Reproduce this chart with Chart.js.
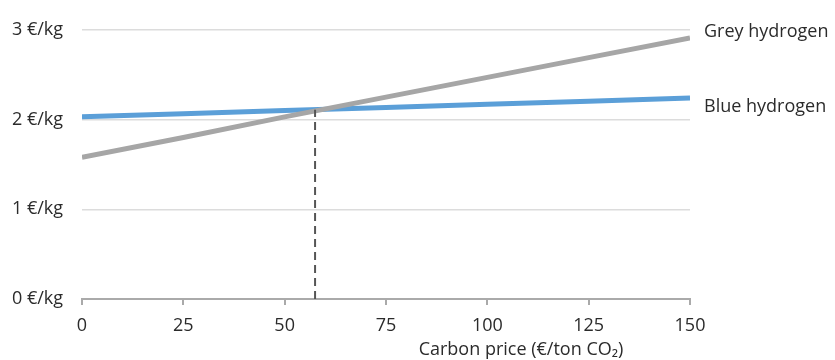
<!DOCTYPE html>
<html>
<head>
<meta charset="utf-8">
<script src="https://cdn.jsdelivr.net/npm/chart.js@4"></script>
<style>
  html, body { margin: 0; padding: 0; background: #fff; }
  #wrap { width: 835px; height: 360px; }
</style>
</head>
<body>
<div id="wrap"><canvas id="chart" width="835" height="360"></canvas></div>
<script>
// Carbon price vs hydrogen cost
const carbonPrice = [0, 25, 50, 75, 100, 125, 150];
const greyHydrogen = [1.58, 1.80, 2.03, 2.25, 2.47, 2.69, 2.91];
const blueHydrogen = [2.03, 2.065, 2.10, 2.135, 2.17, 2.205, 2.24];
const seriesNames = ['Grey hydrogen', 'Blue hydrogen'];
const xTitle = 'Carbon price (€/ton CO₂)';
// break-even marker (dashed line)
const breakEvenX = [57.5, 57.5];
const breakEvenY = [0, 2.11];

const textColor = '#2b2b2b';
const fontFamily = "'Open Sans', 'Noto Sans', sans-serif";
const fontSize = 18;

function toPoints(xs, ys) {
  return xs.map((x, i) => ({ x: x, y: ys[i] }));
}

// series names next to the line ends + x axis title (sits right of centre in the original)
const extraText = {
  id: 'extraText',
  afterDraw(chart) {
    const ctx = chart.ctx;
    const yScale = chart.scales.y;
    const area = chart.chartArea;
    const offsets = [-6, 9];
    ctx.save();
    ctx.font = fontSize + 'px ' + fontFamily;
    ctx.fillStyle = textColor;
    ctx.textBaseline = 'middle';
    ctx.textAlign = 'left';
    [greyHydrogen, blueHydrogen].forEach((arr, i) => {
      const y = yScale.getPixelForValue(arr[arr.length - 1]) + offsets[i];
      ctx.fillText(seriesNames[i], area.right + 14, y);
    });
    ctx.textAlign = 'center';
    ctx.fillText(xTitle, area.left + (area.right - area.left) * 0.722, area.bottom + 51);
    ctx.restore();
  }
};

const ctx = document.getElementById('chart').getContext('2d');
new Chart(ctx, {
  type: 'line',
  data: {
    datasets: [
      {
        label: seriesNames[0],
        data: toPoints(carbonPrice, greyHydrogen),
        borderColor: '#a6a6a6',
        borderWidth: 5,
        pointRadius: 0,
        tension: 0
      },
      {
        label: seriesNames[1],
        data: toPoints(carbonPrice, blueHydrogen),
        borderColor: '#5b9fd8',
        borderWidth: 5,
        pointRadius: 0,
        tension: 0
      },
      {
        label: 'break-even',
        data: toPoints(breakEvenX, breakEvenY),
        borderColor: '#555555',
        borderWidth: 2,
        borderDash: [8, 5],
        pointRadius: 0,
        order: -1
      }
    ]
  },
  options: {
    responsive: false,
    animation: false,
    layout: { padding: { top: 16, right: 145, left: 0, bottom: 0 } },
    plugins: {
      legend: { display: false },
      tooltip: { enabled: false }
    },
    scales: {
      x: {
        type: 'linear',
        min: 0,
        max: 150,
        ticks: {
          stepSize: 25,
          color: textColor,
          font: { size: fontSize, family: fontFamily },
          padding: 10
        },
        grid: {
          drawOnChartArea: false,
          drawTicks: true,
          tickLength: 6,
          color: '#aaaaaa',
          lineWidth: 2
        },
        border: { display: true, color: '#aaaaaa', width: 2 },
        afterFit(scale) { scale.height = 61; }
      },
      y: {
        min: 0,
        max: 3,
        ticks: {
          stepSize: 1,
          color: textColor,
          font: { size: fontSize, family: fontFamily },
          padding: 19,
          callback: v => v + ' €/kg'
        },
        grid: {
          color: '#dcdcdc',
          lineWidth: 1.5,
          drawTicks: false
        },
        border: { display: false },
        afterFit(scale) { scale.width = 82; }
      }
    }
  },
  plugins: [extraText]
});
</script>
</body>
</html>
